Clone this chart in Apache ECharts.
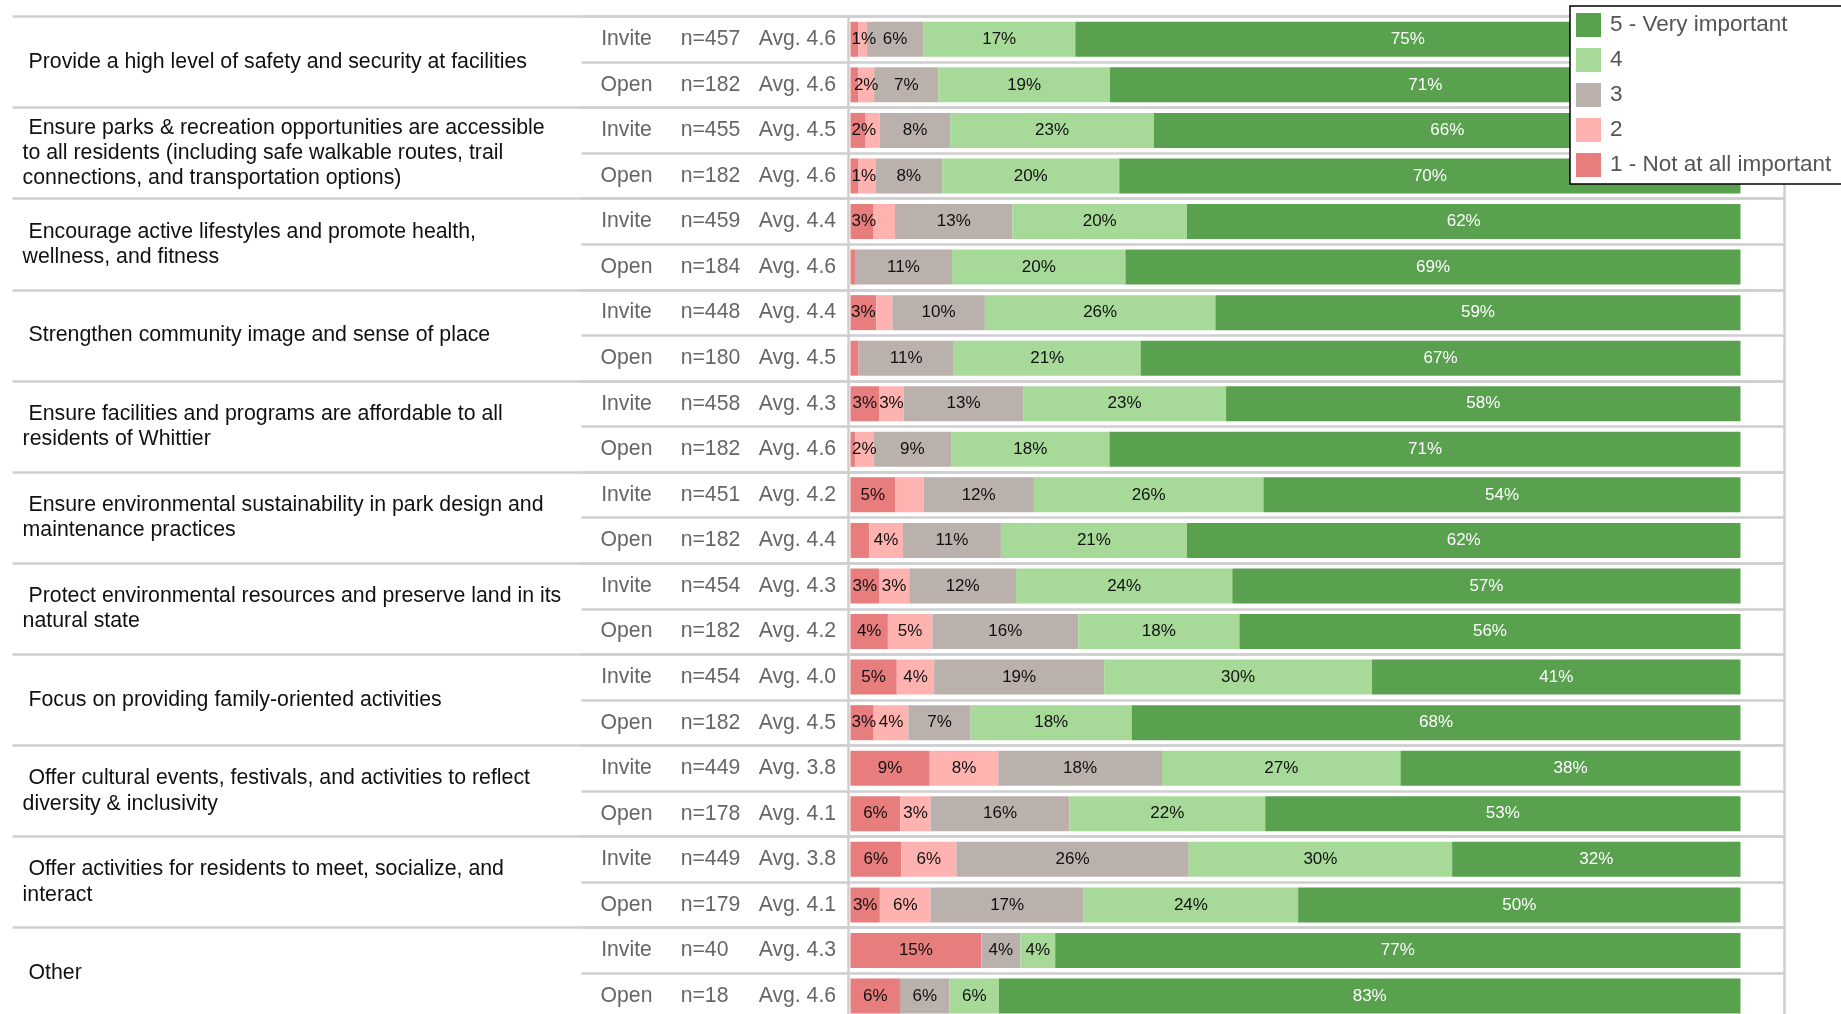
<!DOCTYPE html>
<html>
<head>
<meta charset="utf-8">
<script src="https://cdn.jsdelivr.net/npm/echarts@6/dist/echarts.min.js"></script>
<style>
html,body{margin:0;padding:0;background:#ffffff;}
#chart{width:1841px;height:1014px;}
</style>
</head>
<body>
<div id="chart"></div>
<script>
// ---------- data ----------
const groups = [
  ' Provide a high level of safety and security at facilities',
  ' Ensure parks & recreation opportunities are accessible\nto all residents (including safe walkable routes, trail\nconnections, and transportation options)',
  ' Encourage active lifestyles and promote health,\nwellness, and fitness',
  ' Strengthen community image and sense of place',
  ' Ensure facilities and programs are affordable to all\nresidents of Whittier',
  ' Ensure environmental sustainability in park design and\nmaintenance practices',
  ' Protect environmental resources and preserve land in its\nnatural state',
  ' Focus on providing family-oriented activities',
  ' Offer cultural events, festivals, and activities to reflect\ndiversity & inclusivity',
  ' Offer activities for residents to meet, socialize, and\ninteract',
  ' Other'
];

const rowSource = ['Invite','Open','Invite','Open','Invite','Open','Invite','Open','Invite','Open','Invite',
                   'Open','Invite','Open','Invite','Open','Invite','Open','Invite','Open','Invite','Open'];
const rowN   = [457,182,455,182,459,184,448,180,458,182,451,182,454,182,454,182,449,178,449,179,40,18];
const rowAvg = [4.6,4.6,4.5,4.6,4.4,4.6,4.4,4.5,4.3,4.6,4.2,4.4,4.3,4.2,4.0,4.5,3.8,4.1,3.8,4.1,4.3,4.6];

const seriesNames = ['1 - Not at all important', '2', '3', '4', '5 - Very important'];

const s1 = [0.86,0.86,1.7,0.9,2.6,0.5,2.9,0.9,3.2,0.5,5.0,2.1,3.2,4.2,5.2,2.6,8.9,5.6,5.7,3.3,14.7,5.56];
const s2 = [1.0,1.8,1.6,1.9,2.4,0,1.8,0,2.8,2.1,3.2,3.8,3.4,5.0,4.2,3.9,7.7,3.4,6.2,5.7,0,0];
const s3 = [6.3,7.2,7.9,7.5,13.2,10.9,10.4,10.7,13.4,8.7,12.4,11.0,12.0,16.4,19.1,7.0,18.4,15.6,26.1,17.2,4.4,5.56];
const s4 = [17.1,19.3,22.9,19.9,19.6,19.5,25.9,21.0,22.8,17.8,25.8,20.9,24.3,18.1,30.1,18.1,26.8,22.0,29.6,24.1,3.9,5.56];
const s5 = [74.7,70.9,65.9,69.8,62.2,69.1,59.0,67.4,57.8,70.9,53.6,62.2,57.1,56.3,41.4,68.4,38.2,53.4,32.4,49.7,77.0,83.33];

// rows (0-based) whose segment label is not printed in the reference
const hiddenLabels1 = [1,5,7,9,11];
const hiddenLabels2 = [0,2,3,4,6,10];

// ---------- chart ----------
const FONT = "'Liberation Sans', Arial, sans-serif";
const colors = ['#e87d7e', '#ffb3b1', '#bab0ac', '#a7da98', '#59a14f'];
const lineColor = '#cfcfcf';
const TOP = 16.5, HEIGHT = 1002.3;
const GRID_LEFT = 850.5;
const rowKeys = rowSource.map((s, i) => s + '_' + i);

const chart = echarts.init(document.getElementById('chart'), null, {renderer: 'canvas'});

const valueSets = [s1, s2, s3, s4, s5];
const hiddenSets = [hiddenLabels1, hiddenLabels2, [], [], []];

const barSeries = valueSets.map((vals, k) => {
  const s = {
    name: seriesNames[k],
    type: 'bar',
    stack: 'total',
    xAxisIndex: 0,
    yAxisIndex: 0,
    barWidth: 35,
    itemStyle: {color: colors[k]},
    emphasis: {disabled: true},
    label: {
      show: true,
      position: 'inside',
      fontFamily: FONT,
      fontSize: 17,
      color: k === 4 ? '#ffffff' : '#111111',
      formatter: function (p) {
        if (!p.value || hiddenSets[k].indexOf(p.dataIndex) >= 0) return '';
        return Math.round(p.value) + '%';
      }
    },
    data: vals
  };
  if (k === 0) {
    s.labelLayout = function (p) {
      const r = p.rect, l = p.labelRect;
      if (r && l && l.width > 0 && l.x < r.x) {
        return {x: r.x + 1, y: r.y + r.height / 2, align: 'left', verticalAlign: 'middle'};
      }
      return {};
    };
  }
  return s;
});

function rowTextAxis(formatter, align, margin) {
  return {
    gridIndex: 0, type: 'category', inverse: true, data: rowKeys, position: 'left',
    axisLine: {show: false}, axisTick: {show: false}, splitLine: {show: false},
    axisLabel: {
      interval: 0, margin: margin, align: align, color: '#666666',
      fontFamily: FONT, fontSize: 21.2, formatter: formatter
    }
  };
}

const option = {
  animation: false,
  backgroundColor: '#ffffff',
  textStyle: {fontFamily: FONT},
  legend: {
    data: seriesNames.slice().reverse(),
    orient: 'vertical',
    left: 1570,
    top: 6,
    padding: [7, 12, 7, 6],
    itemWidth: 25,
    itemHeight: 24,
    itemGap: 11,
    icon: 'rect',
    selectedMode: false,
    backgroundColor: '#ffffff',
    borderColor: '#000000',
    borderWidth: 1.5,
    borderRadius: 0,
    textStyle: {fontFamily: FONT, fontSize: 22.5, color: '#555555', padding: [0, 0, 0, 4]},
    z: 10
  },
  grid: [
    {left: GRID_LEFT, right: 100.5, top: TOP, height: HEIGHT, outerBoundsMode: 'none', containLabel: false},
    {left: 12.6, right: 57, top: TOP, height: HEIGHT, outerBoundsMode: 'none', containLabel: false},
    {left: 581.5, right: 57, top: TOP, height: HEIGHT, outerBoundsMode: 'none', containLabel: false}
  ],
  xAxis: [
    {gridIndex: 0, type: 'value', min: 0, max: 100, show: false},
    {gridIndex: 1, type: 'value', min: 0, max: 1, show: false},
    {gridIndex: 2, type: 'value', min: 0, max: 1, show: false}
  ],
  yAxis: [
    // bars axis: source column (Invite / Open), centred
    rowTextAxis(function (v, i) { return rowSource[i]; }, 'center', GRID_LEFT - 626.5),
    { // group labels + group separators
      gridIndex: 1, type: 'category', inverse: true, data: groups,
      axisLine: {show: false}, axisTick: {show: false},
      splitLine: {show: true, lineStyle: {color: lineColor, width: 2.5}},
      axisLabel: {
        interval: 0, inside: true, margin: 10, align: 'left', verticalAlign: 'middle',
        color: '#111111', fontFamily: FONT, fontSize: 21.3, lineHeight: 25.3
      }
    },
    { // row separators
      gridIndex: 2, type: 'category', inverse: true, data: rowKeys,
      axisLine: {show: false}, axisTick: {show: false}, axisLabel: {show: false},
      splitLine: {show: true, lineStyle: {color: lineColor, width: 2.5}}
    },
    { // vertical line left of the bars
      gridIndex: 0, type: 'value', position: 'left', offset: 2.5, min: 0, max: 1,
      axisLine: {show: true, lineStyle: {color: lineColor, width: 2.5}},
      axisTick: {show: false}, axisLabel: {show: false}, splitLine: {show: false}
    },
    { // right border
      gridIndex: 1, type: 'value', position: 'right', min: 0, max: 1,
      axisLine: {show: true, lineStyle: {color: lineColor, width: 2.5}},
      axisTick: {show: false}, axisLabel: {show: false}, splitLine: {show: false}
    },
    // n column
    rowTextAxis(function (v, i) { return 'n=' + rowN[i]; }, 'left', GRID_LEFT - 680.7),
    // average column
    rowTextAxis(function (v, i) { return 'Avg. ' + rowAvg[i].toFixed(1); }, 'left', GRID_LEFT - 758.7)
  ],
  series: barSeries
};

chart.setOption(option);
</script>
</body>
</html>
